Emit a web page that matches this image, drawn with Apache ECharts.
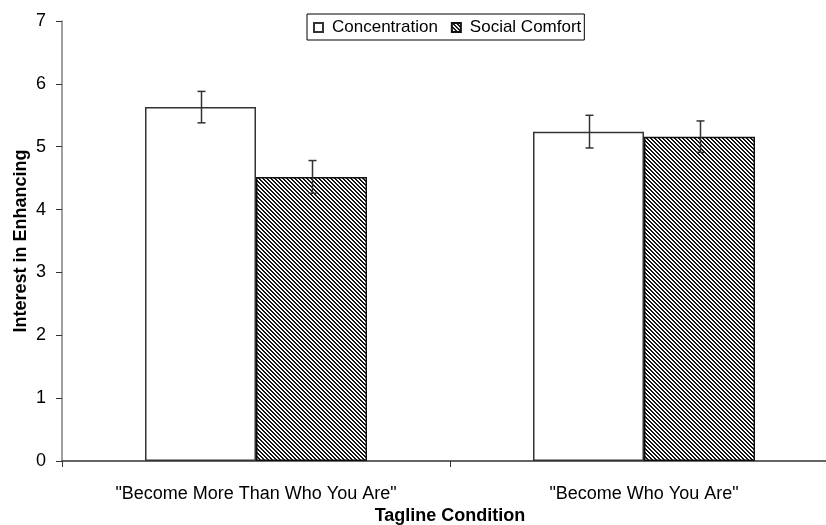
<!DOCTYPE html>
<html>
<head>
<meta charset="utf-8">
<script src="https://cdn.jsdelivr.net/npm/echarts@6/dist/echarts.min.js"></script>
<style>
  html, body { margin: 0; padding: 0; background: #fff; }
  #chart { width: 826px; height: 525px; }
</style>
</head>
<body>
<div id="chart"></div>
<script>
// Tagline conditions and group means with standard errors
var categories = ['"Become More Than Who You Are"', '"Become Who You Are"'];
var seriesNames = ['Concentration', 'Social Comfort'];
var concentration = [5.63, 5.24];
var socialComfort = [4.52, 5.16];
var concentrationErr = [0.25, 0.26];
var socialComfortErr = [0.26, 0.25];
var yTicks = [0, 1, 2, 3, 4, 5, 6, 7];

// Diagonal hatch fill for the second series
function makeHatch() {
  var c = document.createElement('canvas');
  c.width = 4; c.height = 4;
  var ctx = c.getContext('2d');
  var img = ctx.createImageData(4, 4);
  for (var y = 0; y < 4; y++) {
    for (var x = 0; x < 4; x++) {
      var d = ((x - y) % 4 + 4) % 4;
      var v = (d === 0 || d === 1) ? 20 : 255;
      var i = (y * 4 + x) * 4;
      img.data[i] = v; img.data[i + 1] = v; img.data[i + 2] = v; img.data[i + 3] = 255;
    }
  }
  ctx.putImageData(img, 0, 0);
  return c;
}
var hatch = { image: makeHatch(), repeat: 'repeat' };

var font = 'Liberation Sans, Arial, sans-serif';
var BAR_W = 111;

function errorSeries(means, errs, seriesIndex) {
  var data = means.map(function (m, i) { return [i, m - errs[i], m + errs[i]]; });
  return {
    type: 'custom',
    name: seriesNames[seriesIndex] + ' SE',
    z: 10,
    silent: true,
    data: data,
    renderItem: function (params, api) {
      var idx = api.value(0);
      var lo = api.coord([idx, api.value(1)]);
      var hi = api.coord([idx, api.value(2)]);
      var x = lo[0] + (seriesIndex === 0 ? -BAR_W / 2 : BAR_W / 2);
      x = Math.round(x) + 0.5;
      var cap = 4;
      var style = { stroke: '#333', lineWidth: 1.5 };
      return {
        type: 'group',
        children: [
          { type: 'line', shape: { x1: x, y1: hi[1], x2: x, y2: lo[1] }, style: style },
          { type: 'line', shape: { x1: x - cap, y1: hi[1], x2: x + cap, y2: hi[1] }, style: style },
          { type: 'line', shape: { x1: x - cap, y1: lo[1], x2: x + cap, y2: lo[1] }, style: style }
        ]
      };
    }
  };
}

var chart = echarts.init(document.getElementById('chart'), null, { renderer: 'canvas' });
chart.setOption({
  animation: false,
  backgroundColor: '#fff',
  textStyle: { fontFamily: font },
  grid: { left: 62, width: 776, top: 21, bottom: 64, containLabel: false, outerBoundsMode: 'none' },
  legend: {
    data: seriesNames,
    left: 307,
    top: 14,
    padding: [5, 3, 4, 6],
    borderColor: '#000',
    borderWidth: 1,
    itemWidth: 9,
    itemHeight: 9,
    itemGap: 13,
    icon: 'rect',
    textStyle: { fontSize: 17, color: '#000', fontFamily: font, padding: [0, 0, 0, 4] }
  },
  xAxis: {
    type: 'category',
    data: categories,
    name: 'Tagline Condition',
    nameLocation: 'middle',
    nameGap: 46,
    nameMoveOverlap: false,
    nameTextStyle: { fontSize: 18, fontWeight: 'bold', color: '#000', fontFamily: font },
    axisLine: { lineStyle: { color: '#333', width: 1.5 } },
    axisTick: { show: true, length: 6, lineStyle: { color: '#333' } },
    axisLabel: { fontSize: 18, color: '#000', margin: 24, fontFamily: font }
  },
  yAxis: {
    type: 'value',
    min: 0,
    max: 7,
    interval: 1,
    name: 'Interest in Enhancing',
    nameLocation: 'middle',
    nameGap: 32,
    nameMoveOverlap: false,
    nameTextStyle: { fontSize: 18, fontWeight: 'bold', color: '#000', fontFamily: font },
    axisLine: { show: true, lineStyle: { color: '#808080', width: 1.5 } },
    axisTick: { show: true, length: 6, lineStyle: { color: '#333' } },
    axisLabel: {
      fontSize: 18, color: '#000', margin: 16, fontFamily: font,
      formatter: function (v) { return yTicks.indexOf(v) >= 0 ? String(v) : ''; }
    },
    splitLine: { show: false }
  },
  series: [
    {
      name: seriesNames[0],
      type: 'bar',
      data: concentration,
      barWidth: BAR_W,
      barGap: '0%',
      itemStyle: { color: '#fff', borderColor: '#333', borderWidth: 1.5 }
    },
    {
      name: seriesNames[1],
      type: 'bar',
      data: socialComfort,
      barWidth: BAR_W,
      barGap: '0%',
      itemStyle: { color: hatch, borderColor: '#111', borderWidth: 1.5 }
    },
    errorSeries(concentration, concentrationErr, 0),
    errorSeries(socialComfort, socialComfortErr, 1)
  ]
});
</script>
</body>
</html>
